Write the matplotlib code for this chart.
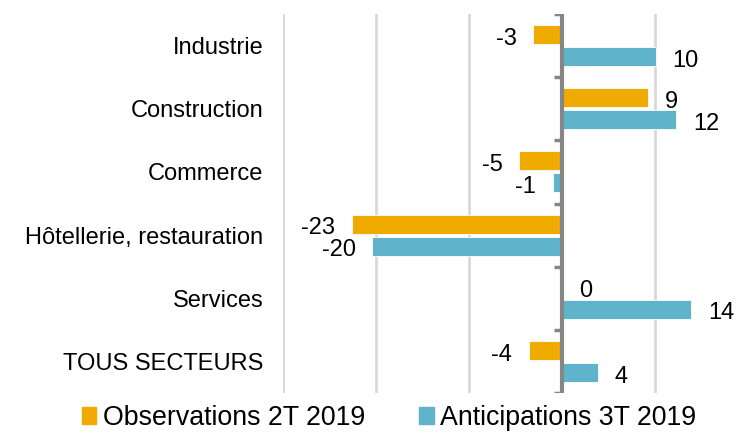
import matplotlib.pyplot as plt
from matplotlib.patches import Patch

plt.rcParams['font.family'] = ['Liberation Sans', 'DejaVu Sans']

# données
secteurs = ['Industrie', 'Construction', 'Commerce', 'Hôtellerie, restauration',
            'Services', 'TOUS SECTEURS']
observations = [-3.1, 9.3, -4.6, -22.6, 0.0, -3.6]
anticipations = [10.1, 12.3, -1.0, -20.4, 13.9, 3.9]
lbl_obs = 'Observations 2T 2019'
lbl_ant = 'Anticipations 3T 2019'

c_obs = '#F0AB00'
c_ant = '#5FB4CB'
FS = 17

fig = plt.figure(figsize=(7.48, 4.33), dpi=100)
ax = fig.add_axes([283 / 748, 1 - 393 / 433, 1 - 283 / 748, (393 - 14) / 433])

y = list(range(len(secteurs)))
h = 0.3
off = 0.175
y_obs = [i - off for i in y]
y_ant = [i + off for i in y]
ax.barh(y_obs, observations, height=h, color=c_obs, edgecolor='white', linewidth=0.6, zorder=3)
ax.barh(y_ant, anticipations, height=h, color=c_ant, edgecolor='white', linewidth=0.6, zorder=3)

# étiquettes de valeurs
for yy, vals in ((y_obs, observations), (y_ant, anticipations)):
    for yv, v in zip(yy, vals):
        if v < 0:
            ax.annotate(f'{v:.0f}', (v, yv), xytext=(-12, -3), textcoords='offset points',
                        ha='right', va='center', fontsize=FS)
        else:
            ax.annotate(f'{v:.0f}', (v, yv), xytext=(12, -3), textcoords='offset points',
                        ha='left', va='center', fontsize=FS)

ax.set_xlim(-30, 20)
ax.set_ylim(len(secteurs) - 0.5, -0.5)
ax.set_xticks([-30, -20, -10, 10])
ax.xaxis.grid(True, color='#D9D9D9', linewidth=2, zorder=0)
ax.tick_params(axis='x', length=0, labelbottom=False)
ax.set_yticks(y)
ax.set_yticklabels(secteurs, fontsize=FS)
ax.tick_params(axis='y', length=0, pad=14)
for s in ax.spines.values():
    s.set_visible(False)

# axe vertical au zéro avec graduations
ax.axvline(0, color='#868686', linewidth=3, zorder=4)
bornes = [i - 0.5 for i in range(len(secteurs) + 1)]
ax.hlines(bornes, -0.85, 0, color='#868686', linewidth=2.5, zorder=4)

handles = [Patch(color=c_obs), Patch(color=c_ant)]
fig.legend(handles, [lbl_obs, lbl_ant], loc='center', bbox_to_anchor=(0.52, 1 - 418 / 433),
           ncol=2, frameon=False, fontsize=19.3, handlelength=0.55, handleheight=0.55,
           handletextpad=0.25, columnspacing=2.0)

plt.savefig('out.png')
